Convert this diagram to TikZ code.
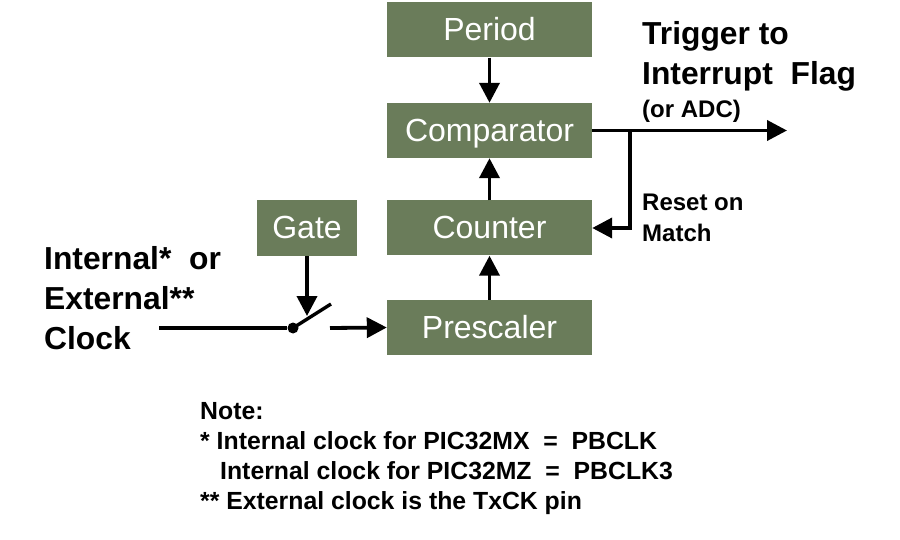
\documentclass[tikz,border=0pt]{standalone}
\usepackage{fontspec}
\setmainfont{Liberation Sans}
\usetikzlibrary{arrows.meta}
\definecolor{boxgreen}{RGB}{106,124,90}
\tikzset{
  x=1pt, y=-1pt,
  blk/.style={draw=none, fill=boxgreen, text=white, inner sep=0,
    minimum height=55pt, text height=28pt, text depth=6pt,
    font=\fontsize{32}{32}\selectfont},
  conn/.style={line width=3.8pt, -{Triangle[length=20pt,width=20pt]}},
  wire/.style={line width=3.8pt},
  lbl/.style={inner sep=0, anchor=base west, align=left},
  big/.style={font=\bfseries\fontsize{31.8}{40}\selectfont},
  mid/.style={font=\bfseries\fontsize{24}{31}\selectfont},
  note/.style={font=\bfseries\fontsize{24.8}{30}\selectfont},
}
\begin{document}
\begin{tikzpicture}
\useasboundingbox (0,0) rectangle (900,540);
\fill[white] (0,0) rectangle (900,540);
% blocks
\node[blk, minimum width=205pt] (period) at (489.5,30) {Period};
\node[blk, minimum width=205pt] (comp) at (489.5,130.5) {Comparator};
\node[blk, minimum width=205pt] (count) at (489.5,228) {Counter};
\node[blk, minimum width=205pt] (pres) at (489.5,327.5) {Prescaler};
\node[blk, minimum width=100pt, minimum height=56pt] (gate) at (307,228) {Gate};
% vertical arrows
\draw[conn] (period) -- (comp);
\draw[conn] (count) -- (comp);
\draw[conn] (pres) -- (count);
% output and reset
\coordinate (outtip) at (787,130.5);
\coordinate (branch) at (630,130.5);
\coordinate (corner) at (630,228);
\draw[conn] (comp.east) -- (outtip);
\draw[wire, line cap=rect] (branch) -- (corner);
\draw[conn] (corner) -- (count.east);
% clock and switch
\coordinate (clkstart) at (159,328);
\node[circle, fill=black, inner sep=0, minimum size=11pt] (pivot) at (293,328) {};
\coordinate (lever) at (331,304);
\coordinate (swout) at (330,328);
\coordinate (gatetip) at (307,316);
\draw[wire] (clkstart) -- (pivot);
\draw[line width=3.4pt] (pivot.center) -- (lever);
\draw[conn] (gate.south) -- (gatetip);
\draw[conn] (swout) -- (pres.west);
% labels
\node[lbl, big] (trig) at (642,85) {Trigger to\\Interrupt~~Flag};
\node[lbl, mid] (adc) at (642,118) {(or ADC)};
\node[lbl, mid] (reset) at (642,242) {Reset on\\Match};
\node[lbl, big] (clk) at (44,349) {Internal*~~or\\External**\\Clock};
\node[lbl, note] (notes) at (200,509) {Note:\\* Internal clock for PIC32MX~~=~~PBCLK\\\hspace*{20pt}Internal clock for PIC32MZ~~=~~PBCLK3\\** External clock is the TxCK pin};
\end{tikzpicture}
\end{document}
